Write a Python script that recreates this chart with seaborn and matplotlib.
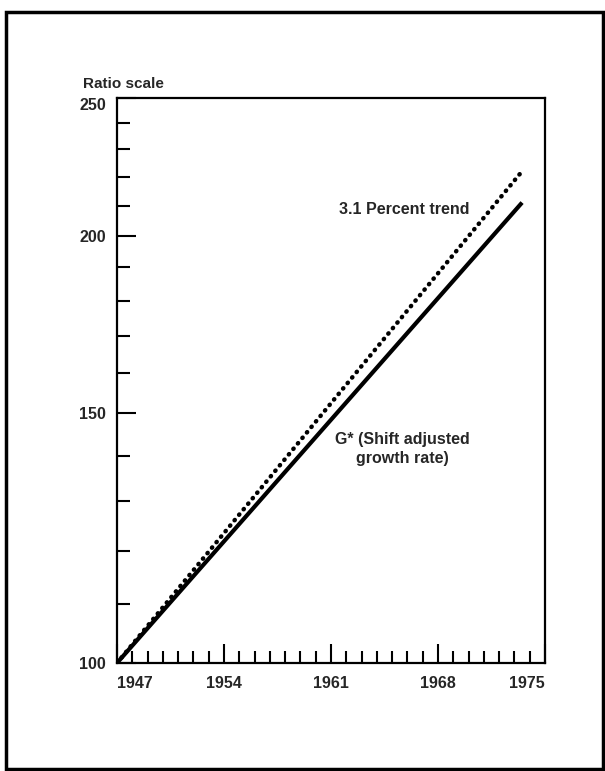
import pandas as pd
import seaborn as sns
import matplotlib.pyplot as plt
from matplotlib.patches import Rectangle
from matplotlib.ticker import NullFormatter

# values (ratio scale, 1947 = 100)
years = [1947, 1973.5]
trend = [100, 222]      # 3.1 percent trend
gstar = [100, 211]      # G* shift adjusted growth rate

x_major = [1947, 1954, 1961, 1968, 1975]
x_minor = list(range(1947, 1976))
y_major = [100, 150, 200, 250]
y_minor = [110, 120, 130, 140, 160, 170, 180, 190, 210, 220, 230, 240]

sns.set_style("white")
plt.rcParams['font.family'] = ['Liberation Sans', 'DejaVu Sans']
plt.rcParams['font.weight'] = 'bold'

W, H = 605, 771
fig = plt.figure(figsize=(W / 100, H / 100), dpi=100)
ax = fig.add_axes([117 / W, 1 - 663 / H, (545 - 117) / W, (663 - 98) / H])

df_trend = pd.DataFrame({'year': years, 'value': trend})
df_g = pd.DataFrame({'year': years, 'value': gstar})

sns.lineplot(data=df_trend, x='year', y='value', ax=ax, color='black',
             lw=3.2, linestyle=(0, (0.1, 1.5)), dash_capstyle='round')
sns.lineplot(data=df_g, x='year', y='value', ax=ax, color='black',
             lw=3.0, solid_capstyle='butt')

ax.set_yscale('log')
ax.set_xlim(1947, 1975)
ax.set_ylim(100, 250)

ax.set_xticks(x_major, labels=[str(v) for v in x_major])
ax.set_xticks(x_minor, minor=True)
ax.set_yticks(y_major, labels=[str(v) for v in y_major])
ax.set_yticks(y_minor, minor=True)
ax.yaxis.set_minor_formatter(NullFormatter())
ax.xaxis.set_minor_formatter(NullFormatter())

ax.tick_params(which='both', direction='in', width=1.5, color='black',
               bottom=True, left=True, top=False, right=False)
ax.tick_params(which='major', length=13.5, labelsize=11.5)
ax.tick_params(which='minor', length=9)
ax.tick_params(axis='y', pad=8)
ax.tick_params(axis='x', pad=9)

# end labels sit inside the axis ends like in the print
xl = ax.get_xticklabels()
xl[0].set_ha('left')
xl[-1].set_ha('right')
ax.get_yticklabels()[-1].set_va('top')

ax.set_xlabel('')
ax.set_ylabel('')
for s in ax.spines.values():
    s.set_linewidth(1.6)
    s.set_color('black')

# labels
fig.text(83 / W, 1 - 88 / H, 'Ratio scale', fontsize=11, ha='left', va='baseline')
ax.text(1961.5, 207, '3.1 Percent trend', fontsize=11.5, ha='left', va='baseline')
ax.text(1965.7, 145.4, 'G* (Shift adjusted\ngrowth rate)', fontsize=11.5,
        ha='center', va='top', multialignment='center', linespacing=1.3)

# outer frame
fig.patches.append(Rectangle((6 / W, 1 - 769 / H), (603 - 6) / W, (769 - 12) / H,
                             transform=fig.transFigure, fill=False,
                             edgecolor='black', lw=2.5))

fig.savefig('out.png', dpi=100)
